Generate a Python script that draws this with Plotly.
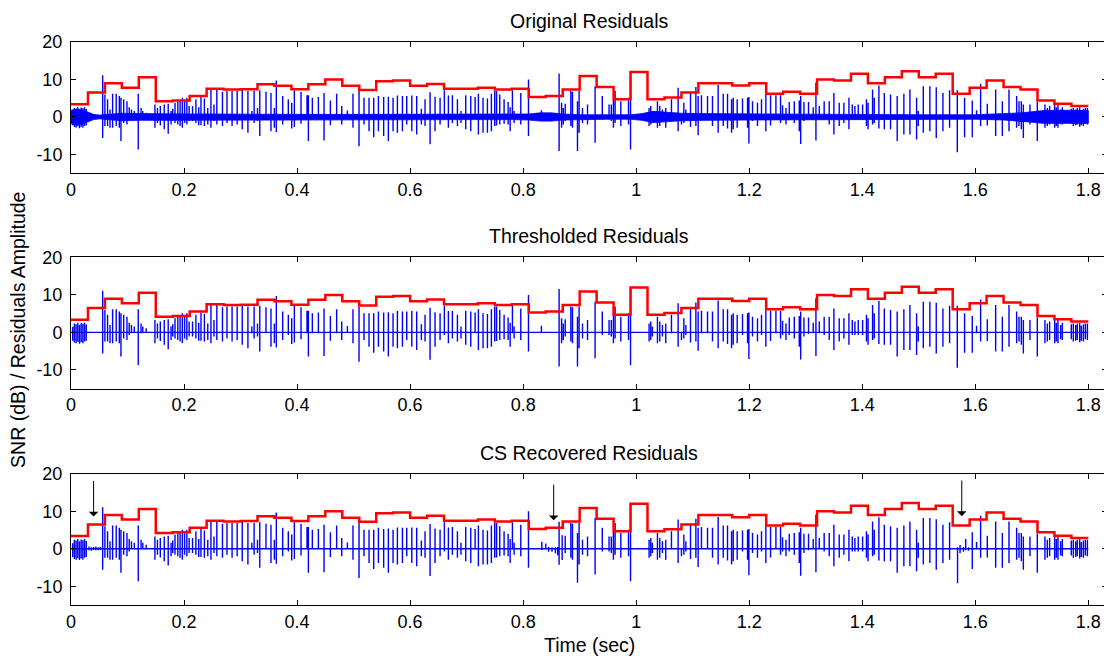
import plotly.graph_objects as go

# ---------------- data ----------------
# frame boundaries (sec) for the SNR staircase
seg_edges = [0.00, 0.03, 0.06, 0.09, 0.12, 0.15, 0.18, 0.21, 0.24, 0.27,
             0.30, 0.33, 0.36, 0.39, 0.42, 0.45, 0.48, 0.51, 0.54, 0.57,
             0.60, 0.63, 0.66, 0.69, 0.72, 0.75, 0.78, 0.81, 0.84, 0.87,
             0.90, 0.93, 0.96, 0.99, 1.02, 1.05, 1.08, 1.11, 1.14, 1.17,
             1.20, 1.23, 1.26, 1.29, 1.32, 1.35, 1.38, 1.41, 1.44, 1.47,
             1.50, 1.53, 1.56, 1.59, 1.62, 1.65, 1.68, 1.71, 1.74, 1.77, 1.80]
# SNR per frame (dB)
snr_db = [3.4, 6.5, 9.0, 7.8, 10.6, 4.2, 4.4, 5.6, 7.5, 7.3,
          7.4, 8.7, 8.3, 7.4, 8.7, 10.0, 8.3, 7.2, 9.5, 9.7,
          8.3, 8.8, 7.5, 7.5, 7.8, 7.3, 7.5, 5.3, 5.6, 7.3,
          10.9, 8.0, 4.7, 12.0, 4.7, 5.2, 6.5, 9.0, 9.0, 8.4,
          9.0, 6.2, 6.7, 6.2, 10.0, 9.7, 11.5, 9.0, 10.6, 12.2,
          10.6, 11.5, 6.2, 7.8, 9.7, 8.0, 7.3, 4.4, 3.5, 2.9]

# residual pulses (time sec, positive peak, negative peak) - thresholded residuals
pulse_t = [0.003, 0.006, 0.009, 0.012, 0.015, 0.018, 0.021, 0.024, 0.027,
           0.056, 0.060, 0.0647, 0.069, 0.0736, 0.080, 0.0855, 0.0884, 0.0932, 0.099,
           0.103, 0.107, 0.112, 0.119, 0.124, 0.127, 0.133, 0.1485, 0.153, 0.158,
           0.165, 0.172, 0.177, 0.180, 0.184, 0.189, 0.193, 0.197, 0.201, 0.205,
           0.209, 0.215, 0.221, 0.226, 0.230, 0.236, 0.242, 0.2476, 0.253, 0.258,
           0.268, 0.276, 0.285, 0.294, 0.303, 0.313, 0.320, 0.324, 0.330, 0.334,
           0.345, 0.3538,
           0.3598, 0.3633, 0.3745, 0.3845, 0.3905, 0.3952, 0.407, 0.4176, 0.420, 0.427,
           0.4377, 0.4477, 0.4589, 0.470, 0.479, 0.489, 0.4989, 0.5096, 0.5184, 0.5273,
           0.5356, 0.5439, 0.5532, 0.5615, 0.5698, 0.5775, 0.5864, 0.594, 0.603, 0.6116,
           0.6199, 0.6264, 0.6353, 0.6441, 0.653, 0.6606, 0.6677, 0.6748, 0.6837, 0.690,
           0.6984, 0.7073, 0.715,
           0.7208, 0.729, 0.7368, 0.7438, 0.7497, 0.753, 0.7586, 0.7663, 0.7734, 0.777,
           0.7810, 0.784, 0.7958, 0.8094, 0.8323, 0.8636, 0.868, 0.871, 0.8744, 0.8844,
           0.8873, 0.8961, 0.899, 0.905, 0.9139, 0.9273, 0.940, 0.952, 0.956, 0.9597,
           0.9627, 0.9728, 0.9864, 0.990, 1.0228, 1.0258, 1.0287, 1.0376, 1.0417, 1.0464,
           1.0523, 1.0624, 1.0742,
           1.0801, 1.0843, 1.0879, 1.0961, 1.1056, 1.1096, 1.1155, 1.1262, 1.135, 1.145,
           1.154, 1.1616, 1.1687, 1.1717, 1.1787, 1.1881, 1.197, 1.1994, 1.2058, 1.2146,
           1.2217, 1.2294, 1.2377, 1.2472, 1.2554, 1.259, 1.265, 1.2708, 1.2797, 1.2885,
           1.291, 1.2968, 1.3049, 1.3132, 1.318, 1.3239, 1.3326, 1.3415, 1.3498, 1.3592,
           1.3675, 1.3764, 1.3823, 1.3870, 1.3929, 1.4006, 1.4074, 1.4103, 1.4182, 1.4212,
           1.4294, 1.439,
           1.45, 1.4618, 1.4736, 1.4843, 1.4961, 1.4991, 1.508, 1.5196, 1.5309, 1.5427,
           1.5545, 1.5681, 1.581, 1.5946, 1.6022, 1.6094, 1.6212, 1.636, 1.6478, 1.6596,
           1.6731, 1.6773, 1.6814, 1.685, 1.6967, 1.7097,
           1.7232, 1.7274, 1.7315, 1.7404, 1.7434, 1.7463, 1.7510, 1.7540,
           1.7698, 1.7734, 1.7776, 1.7805, 1.7847, 1.7876, 1.7912, 1.7947, 1.7983]
pulse_top = [1.5, 2.4, 2.2, 2.6, 2.0, 2.5, 2.3, 2.6, 2.1,
             11.1, 6.0, 4.7, 2.0, 6.2, 6.2, 5.6, 5.1, 4.7, 4.2,
             2.6, 2.0, 1.6, 6.2, 2.4, 1.6, 1.1, 3.3, 2.4, 2.9,
             3.3, 3.5, 1.6, 2.2, 3.8, 4.2, 4.4, 5.1, 4.2, 5.1,
             2.9, 2.9, 4.7, 2.6, 5.3, 4.9, 2.4, 7.3, 3.3, 7.3,
             6.7, 6.9, 6.9, 6.9, 7.3, 6.9, 1.6, 6.9, 2.4, 7.1,
             6.7, 6.4,
             2.4, 9.7, 5.6, 4.7, 3.8, 7.1, 6.7, 5.8, 5.8, 5.1,
             5.3, 6.4, 4.4, 6.2, 2.9, 1.7, 6.2, 6.9, 5.1, 5.1,
             5.1, 5.6, 5.3, 5.4, 5.1, 5.7, 5.6, 5.6, 5.7, 5.6,
             2.2, 4.7, 6.6, 5.4, 5.1, 7.1, 5.7, 5.8, 4.7, 1.6,
             5.8, 5.6, 5.3,
             6.2, 5.1, 4.9, 6.2, 6.9, 6.9, 6.0, 4.7, 4.0, 2.6,
             7.1, 1.6, 6.4, 10.0, 1.8, 11.6, 3.8, 2.4, 3.5, 6.9,
             6.7, 4.2, 6.9, 2.4, 3.3, 8.2, 5.6, 3.3, 3.3, 4.7,
             6.9, 4.2, 5.1, 12.0, 2.4, 2.9, 1.6, 4.2, 2.9, 2.0,
             2.4, 4.7, 7.8,
             0.2, 3.8, 2.0, 6.7, 8.0, 5.6, 5.8, 5.6, 5.6, 8.5,
             6.2, 6.2, 4.7, 5.1, 4.7, 4.9, 5.1, 5.3, 4.2, 3.8,
             4.7, 6.0, 5.8, 5.8, 5.8, 3.1, 2.4, 4.0, 4.2, 4.4,
             5.6, 4.0, 4.0, 2.6, 9.1, 2.9, 4.2, 4.2, 6.4, 3.8,
             3.8, 5.1, 3.3, 2.9, 3.3, 3.3, 4.7, 3.8, 7.3, 5.1,
             8.4, 6.4,
             6.0, 5.6, 6.2, 7.3, 5.1, 1.6, 8.2, 8.2, 7.9, 6.4,
             7.1, 7.1, 5.1, 4.4, 1.8, 8.8, 3.5, 7.3, 4.2, 7.3,
             5.6, 4.2, 4.2, 3.3, 3.3, 4.0,
             3.3, 2.4, 2.9, 3.3, 2.6, 3.5, 2.0, 2.6,
             2.2, 2.4, 2.0, 2.4, 2.6, 1.8, 2.2, 2.4, 2.4]
pulse_bot = [-2.2, -2.7, -2.9, -2.5, -3.0, -2.6, -2.9, -2.4, -2.2,
             -5.6, -2.4, -2.4, -2.9, -2.9, -2.4, -2.9, -6.4, -1.6, -2.0,
             -0.7, -0.2, 0.0, -8.7, -0.2, 0.0, 0.0, -2.9, -1.6, -2.3,
             -3.3, -4.5, -2.0, -1.1, -1.6, -2.0, -2.4, -2.9, -1.6, -2.0,
             -1.1, -1.1, -1.6, -2.2, -2.2, -2.4, -2.0, -2.9, -1.1, -2.0,
             -2.4, -1.6, -2.4, -2.0, -3.3, -4.2, -0.2, -1.6, -1.1, -5.1,
             -0.2, -3.8,
             -2.9, -4.0, -2.0, -0.7, -3.1, -2.7, -1.8, -0.2, -6.4, -0.2,
             -0.2, -6.3, -2.2, -0.2, -2.0, 0.0, -2.9, -7.8, -2.0, -3.8,
             -5.4, -3.8, -5.1, -6.4, -3.8, -4.2, -3.8, -2.0, -3.8, -4.7,
             -2.0, -2.4, -7.3, -3.8, -2.0, -0.7, -2.9, -1.6, -2.4, -1.6,
             -3.3, -3.8, -0.2,
             -4.7, -4.2, -4.2, -3.8, -2.4, -2.3, -2.0, -1.8, -2.0, -3.8,
             -0.2, -1.6, -2.0, -5.1, 0.0, -9.1, -2.9, -2.0, -1.1, -2.4,
             -2.9, -9.1, -4.2, -1.6, -2.0, -6.9, -0.7, -0.7, -1.1, -2.9,
             -1.6, -2.4, -2.0, -8.7, -2.4, -2.0, -1.1, -2.9, -2.4, -1.1,
             -2.9, -0.2, -3.8,
             -2.0, -1.6, -0.7, -2.7, -2.4, -4.9, -0.2, -0.2, -2.4, -4.2,
             -2.4, -3.1, -4.2, -3.3, -2.9, -0.7, -2.9, -7.1, -1.1, -2.4,
             -0.7, -3.8, -2.3, -0.2, -1.6, -0.7, -2.0, -0.7, -1.6, -3.8,
             -7.2, -1.1, -0.4, -0.2, -6.3, -0.2, -0.7, -2.0, -4.7, -2.4,
             -1.6, -3.3, -0.7, -0.7, -0.7, -0.7, -2.4, -3.3, -2.0, -1.6,
             -3.1, -3.3,
             -3.3, -6.4, -4.7, -4.7, -6.0, -2.4, -4.2, -3.8, -5.6, -3.8,
             -2.9, -9.4, -5.4, -5.4, -0.2, -2.4, -2.3, -5.1, -5.1, -3.8,
             -2.9, -2.4, -3.3, -5.6, -2.0, -6.4,
             -2.9, -2.4, -2.0, -2.9, -2.4, -2.9, -1.8, -2.0,
             -1.8, -2.4, -2.2, -2.0, -2.6, -2.2, -2.4, -1.8, -2.0]

# background residual noise envelope of the original residuals
noise_t = [0.00, 0.01, 0.02, 0.03, 0.04, 0.05, 0.06, 0.09, 0.12, 0.15, 0.18, 0.21,
           0.24, 0.30, 0.40, 0.50, 0.60, 0.70, 0.78, 0.81, 0.83, 0.85, 0.87, 0.90,
           0.95, 0.99, 1.01, 1.03, 1.05, 1.08, 1.12, 1.20, 1.30, 1.40, 1.50, 1.60,
           1.65, 1.68, 1.70, 1.72, 1.76, 1.80]
noise_amp = [1.8, 2.1, 1.9, 1.2, 0.7, 0.5, 0.6, 1.0, 0.9, 0.8, 0.9, 0.8,
             0.8, 0.7, 0.7, 0.7, 0.7, 0.7, 0.7, 0.8, 1.1, 1.1, 0.8, 0.6,
             0.6, 0.6, 0.9, 1.5, 1.3, 1.0, 0.9, 0.8, 0.8, 0.7, 0.6, 0.6,
             0.8, 1.1, 1.4, 1.7, 1.8, 1.7]

# CS recovered residuals: segments that differ from thresholded version
cs_windows = [(0.030, 0.056), (0.825, 0.872), (1.565, 1.592)]
cs_t = [0.032, 0.036, 0.040, 0.044, 0.048, 0.052,
        0.833, 0.840, 0.845, 0.851, 0.857, 0.861, 0.8636, 0.869,
        1.5686, 1.573, 1.579, 1.583, 1.588]
cs_top = [0.6, 0.4, 0.5, 0.6, 0.4, 0.5,
          1.9, 1.4, 0.5, 0.4, 0.4, 0.5, 7.2, 3.6,
          0.4, 1.0, 0.5, 2.6, 0.4]
cs_bot = [-0.4, -0.5, -0.3, -0.4, -0.4, -0.3,
          -0.3, -0.2, -0.8, -0.8, -1.2, -1.7, -4.3, -3.0,
          -9.2, -1.2, -0.8, -0.4, -0.5]

# arrows in the CS panel: (time, tip value, tail value)
arrow_t = [0.040, 0.854, 1.576]
arrow_tip = [8.6, 7.6, 8.7]
arrow_tail = [18.5, 17.5, 18.6]

titles = ["Original Residuals", "Thresholded Residuals", "CS Recovered Residuals"]
x_ticks = [0, 0.2, 0.4, 0.6, 0.8, 1.0, 1.2, 1.4, 1.6, 1.8]
x_ticklabels = ["0", "0.2", "0.4", "0.6", "0.8", "1", "1.2", "1.4", "1.6", "1.8"]
y_ticks = [-10, 0, 10, 20]
y_ticklabels = ["-10", "0", "10", "20"]
t_end = 1.8

# ---------------- helpers ----------------
def pulse_line(ts, tops, bots):
    xs, ys = [0.0], [0.0]
    for t, a, b in sorted(zip(ts, tops, bots)):
        xs += [t, t, t, t]
        ys += [0.0, a, b, 0.0]
    xs.append(t_end)
    ys.append(0.0)
    return xs, ys

def in_windows(t):
    return any(lo <= t < hi for lo, hi in cs_windows)

BLUE = "#0000FF"
RED = "#FF0000"
FONT = "Liberation Sans, Arial, Helvetica, sans-serif"
TICK_SIZE = 18
LABEL_SIZE = 19.5
PULSE_W = 1.4

fig = go.Figure()

# page body has an 8px margin: figure is sized/offset to compensate
domains = [[0.7669, 1.0], [0.3843, 0.6173], [0.0, 0.2331]]
axn = ["", "2", "3"]

# panel 1: original residuals (noise band + pulses)
band_x = list(noise_t) + list(reversed(noise_t))
band_y = list(noise_amp) + [-a for a in reversed(noise_amp)]
fig.add_trace(go.Scatter(x=band_x, y=band_y, fill="toself", fillcolor=BLUE,
                         line=dict(width=0.8, color=BLUE), mode="lines",
                         xaxis="x", yaxis="y", hoverinfo="skip", showlegend=False))
px1, py1 = pulse_line(pulse_t, pulse_top, pulse_bot)
fig.add_trace(go.Scatter(x=px1, y=py1, mode="lines", line=dict(color=BLUE, width=PULSE_W),
                         xaxis="x", yaxis="y", showlegend=False))

# panel 2: thresholded
fig.add_trace(go.Scatter(x=px1, y=py1, mode="lines", line=dict(color=BLUE, width=PULSE_W),
                         xaxis="x2", yaxis="y2", showlegend=False))

# panel 3: CS recovered
p3 = [(t, a, b) for t, a, b in zip(pulse_t, pulse_top, pulse_bot) if not in_windows(t)]
p3 += list(zip(cs_t, cs_top, cs_bot))
px3, py3 = pulse_line([p[0] for p in p3], [p[1] for p in p3], [p[2] for p in p3])
fig.add_trace(go.Scatter(x=px3, y=py3, mode="lines", line=dict(color=BLUE, width=PULSE_W),
                         xaxis="x3", yaxis="y3", showlegend=False))

# SNR staircases
stairs_y = list(snr_db) + [snr_db[-1]]
for n in axn:
    fig.add_trace(go.Scatter(x=seg_edges, y=stairs_y, mode="lines", line_shape="hv",
                             line=dict(color=RED, width=2.5),
                             xaxis="x" + n, yaxis="y" + n, showlegend=False))

layout = dict(
    width=1104, height=648,
    margin=dict(l=63, r=5, t=34, b=51),
    paper_bgcolor="white", plot_bgcolor="white",
    font=dict(family=FONT, size=TICK_SIZE, color="black"),
    showlegend=False,
)
for i, n in enumerate(axn):
    layout["xaxis" + n] = dict(
        domain=[0, 1], anchor="y" + n, range=[0, 1.833],
        tickvals=x_ticks, ticktext=x_ticklabels,
        ticks="inside", ticklen=5, tickcolor="black", tickwidth=1,
        showline=True, linecolor="black", linewidth=1, mirror="allticks",
        showgrid=False, zeroline=False,
        tickfont=dict(family=FONT, size=TICK_SIZE, color="black"),
    )
    layout["yaxis" + n] = dict(
        domain=domains[i], anchor="x" + n, range=[-15, 20],
        tickvals=y_ticks, ticktext=y_ticklabels,
        ticks="inside", ticklen=5, tickcolor="black", tickwidth=1,
        showline=True, linecolor="black", linewidth=1, mirror="allticks",
        showgrid=False, zeroline=False, ticklabelstandoff=4,
        tickfont=dict(family=FONT, size=TICK_SIZE, color="black"),
    )
fig.update_layout(**layout)

annotations = []
for i, title in enumerate(titles):
    annotations.append(dict(text=title, xref="paper", yref="paper", x=0.5, y=domains[i][1],
                            xanchor="center", yanchor="bottom", yshift=8, showarrow=False,
                            font=dict(family=FONT, size=LABEL_SIZE, color="black")))
annotations.append(dict(text="SNR (dB) / Residuals Amplitude", xref="paper", yref="paper",
                        x=-0.0512, y=0.4885, textangle=-90, xanchor="center", yanchor="middle",
                        showarrow=False, font=dict(family=FONT, size=LABEL_SIZE, color="black")))
annotations.append(dict(text="Time (sec)", xref="paper", yref="paper", x=0.5, y=-0.071,
                        xanchor="center", yanchor="middle", showarrow=False,
                        font=dict(family=FONT, size=LABEL_SIZE, color="black")))
for t, tip, tail in zip(arrow_t, arrow_tip, arrow_tail):
    annotations.append(dict(x=t, y=tip, ax=t, ay=tail, xref="x3", yref="y3",
                            axref="x3", ayref="y3", showarrow=True, arrowhead=1,
                            arrowsize=1.6, arrowwidth=1, arrowcolor="black", text=""))
fig.update_layout(annotations=annotations)

fig.write_html("out.html")
